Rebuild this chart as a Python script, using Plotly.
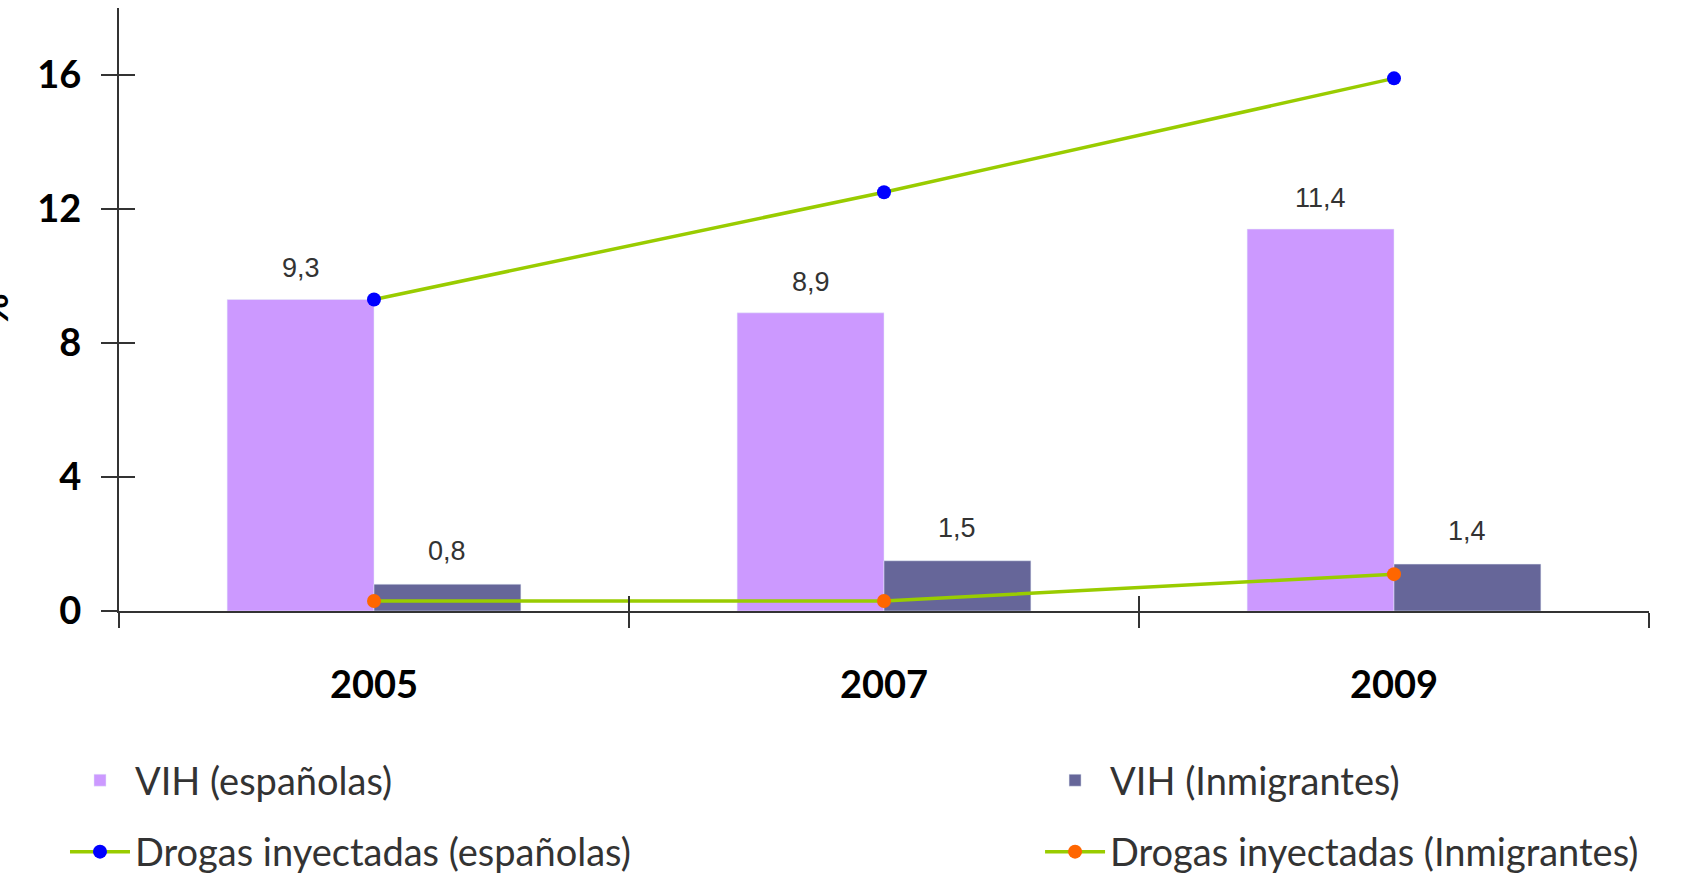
import plotly.graph_objects as go

# ---- data ----
years = ["2005", "2007", "2009"]
vih_esp = [9.3, 8.9, 11.4]
vih_inm = [0.8, 1.5, 1.4]
drog_esp = [9.3, 12.5, 15.9]
drog_inm = [0.3, 0.3, 1.1]
y_ticks = [0, 4, 8, 12, 16]

names = ["VIH (españolas)", "VIH (Inmigrantes)",
         "Drogas inyectadas (españolas)", "Drogas inyectadas (Inmigrantes)"]

C_ESP = "#CC99FF"
C_INM = "#666699"
C_LINE = "#99CC00"

fig = go.Figure()
fig.add_trace(go.Bar(x=years, y=vih_esp, name=names[0], marker_color=C_ESP,
                     legend="legend", legendgroup="a"))
fig.add_trace(go.Bar(x=years, y=vih_inm, name=names[1], marker_color=C_INM,
                     legend="legend2", legendgroup="b"))
fig.add_trace(go.Scatter(x=years, y=drog_esp, name=names[2], mode="lines+markers",
                         line=dict(color=C_LINE, width=3.5),
                         marker=dict(color="#0000FF", size=14),
                         legend="legend", legendgroup="c"))
fig.add_trace(go.Scatter(x=years, y=drog_inm, name=names[3], mode="lines+markers",
                         line=dict(color=C_LINE, width=3.5),
                         marker=dict(color="#FF6600", size=14),
                         legend="legend2", legendgroup="d"))

# invisible helper trace so the overlay axes (crossing ticks) are drawn
fig.add_trace(go.Scatter(x=[-0.5], y=[0], xaxis="x2", yaxis="y2", mode="lines",
                         showlegend=False, hoverinfo="skip"))

# data labels on the bars
bargap = 0.424
off = (1 - bargap) / 4
annos = []
for i, v in enumerate(vih_esp):
    annos.append(dict(x=i - off, y=v, xref="x", yref="y", text=f"{v:.1f}".replace(".", ","),
                      showarrow=False, yshift=31, yanchor="middle",
                      font=dict(family="Liberation Sans", size=27, color="#333333")))
for i, v in enumerate(vih_inm):
    annos.append(dict(x=i + off, y=v, xref="x", yref="y", text=f"{v:.1f}".replace(".", ","),
                      showarrow=False, yshift=33, yanchor="middle",
                      font=dict(family="Liberation Sans", size=27, color="#333333")))
# y-axis title (mostly cut off at the left edge, as in the original)
annos.append(dict(x=-0.0830, y=0.5, xref="paper", yref="paper", text="%", textangle=-90,
                  showarrow=False, xanchor="center", yanchor="middle",
                  font=dict(family="Lato", size=38, color="#000000", weight="bold")))

axis_col = "#333333"
tickfont = dict(family="Lato", size=38, color="#000000", weight="bold")

fig.update_layout(
    width=1695, height=881,
    margin=dict(l=119, r=46, t=8, b=270),
    paper_bgcolor="white", plot_bgcolor="white",
    barmode="group", bargap=bargap, bargroupgap=0,
    showlegend=True,
    annotations=annos,
    xaxis=dict(type="category", range=[-0.5, 2.5], showline=True, linecolor=axis_col,
               linewidth=2, ticks="outside", ticklen=15, tickwidth=2, tickcolor=axis_col,
               tickson="boundaries", showgrid=False, zeroline=False,
               tickfont=tickfont, ticklabelstandoff=39),
    xaxis2=dict(overlaying="x", range=[-0.5, 2.5], tickvals=[-0.5, 0.5, 1.5, 2.5],
                ticks="inside", ticklen=15, tickwidth=2, tickcolor=axis_col,
                showticklabels=False, showline=False, showgrid=False, zeroline=False,
                anchor="y", side="bottom"),
    yaxis=dict(range=[0, 18], tickvals=y_ticks, showline=True, linecolor=axis_col,
               linewidth=2, ticks="outside", ticklen=16, tickwidth=2, tickcolor=axis_col,
               showgrid=False, zeroline=False, tickfont=tickfont, ticklabelstandoff=12),
    yaxis2=dict(overlaying="y", range=[0, 18], tickvals=y_ticks, ticks="inside",
                ticklen=16, tickwidth=2, tickcolor=axis_col, showticklabels=False,
                showline=False, showgrid=False, zeroline=False, anchor="x", side="left"),
    legend=dict(x=-0.0353, y=0.1498, xanchor="left", yanchor="top", yref="container",
                orientation="v", itemwidth=60, tracegroupgap=19,
                font=dict(family="Lato", size=38, color="#333333"),
                bgcolor="rgba(0,0,0,0)"),
    legend2=dict(x=0.602, y=0.1498, xanchor="left", yanchor="top", yref="container",
                 orientation="v", itemwidth=60, tracegroupgap=19,
                 font=dict(family="Lato", size=38, color="#333333"),
                 bgcolor="rgba(0,0,0,0)"),
)

fig.write_html("out.html")
